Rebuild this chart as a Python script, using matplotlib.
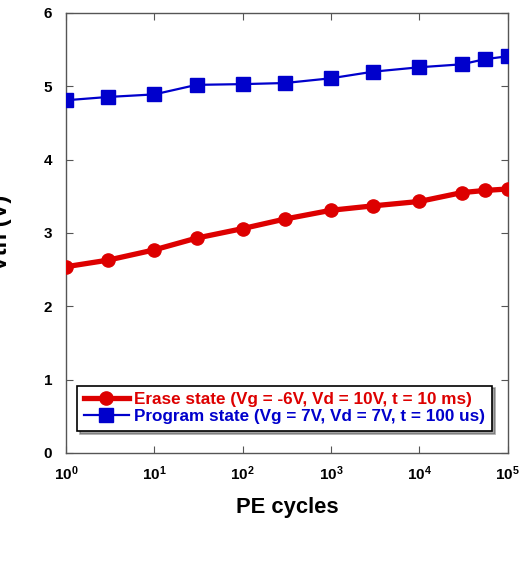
import math
import matplotlib
matplotlib.use("Agg")
import matplotlib.pyplot as plt
from matplotlib.ticker import FixedLocator, FuncFormatter, NullLocator

plt.rcParams['font.family'] = ['Liberation Sans', 'DejaVu Sans']
plt.rcParams['font.weight'] = 'bold'
plt.rcParams['mathtext.fontset'] = 'custom'
plt.rcParams['mathtext.rm'] = 'Liberation Sans:bold'
plt.rcParams['mathtext.bf'] = 'Liberation Sans:bold'
plt.rcParams['mathtext.default'] = 'rm'

cycles = [1, 3, 10, 30, 100, 300, 1000, 3000, 10000, 30000, 55000, 100000]
erase_vth = [2.54, 2.63, 2.77, 2.93, 3.06, 3.19, 3.31, 3.37, 3.43, 3.55, 3.58, 3.60]
program_vth = [4.81, 4.855, 4.89, 5.02, 5.03, 5.045, 5.11, 5.20, 5.26, 5.30, 5.37, 5.41]
erase_label = "Erase state (Vg = -6V, Vd = 10V, t = 10 ms)"
program_label = "Program state (Vg = 7V, Vd = 7V, t = 100 us)"
x_ticks = [1, 10, 100, 1000, 10000, 100000]
y_ticks = [0, 1, 2, 3, 4, 5, 6]

red = '#DD0000'
blue = '#0000CC'

fig = plt.figure(figsize=(5.21, 5.8), dpi=100)
ax = fig.add_axes([0.1267, 0.219, 0.848, 0.7586])

ax.plot(cycles, erase_vth, color=red, lw=3.8, marker='o', ms=9.5, label=erase_label, zorder=3)
ax.plot(cycles, program_vth, color=blue, lw=1.6, marker='s', ms=9.5, label=program_label, zorder=3)

ax.set_xscale('log')
ax.set_xlim(1, 100000)
ax.set_ylim(0, 6)
ax.xaxis.set_major_locator(FixedLocator(x_ticks))
ax.xaxis.set_minor_locator(NullLocator())
ax.xaxis.set_major_formatter(FuncFormatter(lambda v, p: r'$10^{%d}$' % round(math.log10(v))))
ax.set_yticks(y_ticks)

for s in ax.spines.values():
    s.set_color('#555555')
    s.set_linewidth(1.0)
ax.tick_params(direction='in', length=5, width=0.8, color='#555555', top=True, right=True,
               labelsize=11)
ax.tick_params(axis='x', pad=8)
ax.tick_params(axis='y', pad=10)
for lab in ax.get_yticklabels():
    lab.set_fontweight('bold')

ax.set_xlabel('PE cycles', fontsize=15.8, fontweight='bold', labelpad=10)
ax.set_ylabel('Vth (V)', fontsize=17, fontweight='bold')
ax.yaxis.set_label_coords(-0.122, 0.5)

leg = ax.legend(loc='lower center', bbox_to_anchor=(0.494, 0.05), frameon=True, fancybox=False,
                shadow=True, fontsize=12.3, handlelength=2.65, handletextpad=0.3,
                borderpad=0.4, labelspacing=0.1, borderaxespad=0)
leg.get_frame().set_edgecolor('black')
leg.get_frame().set_linewidth(1.2)
for t, c in zip(leg.get_texts(), [red, blue]):
    t.set_color(c)
    t.set_fontweight('bold')

fig.savefig('out.png', dpi=100)
